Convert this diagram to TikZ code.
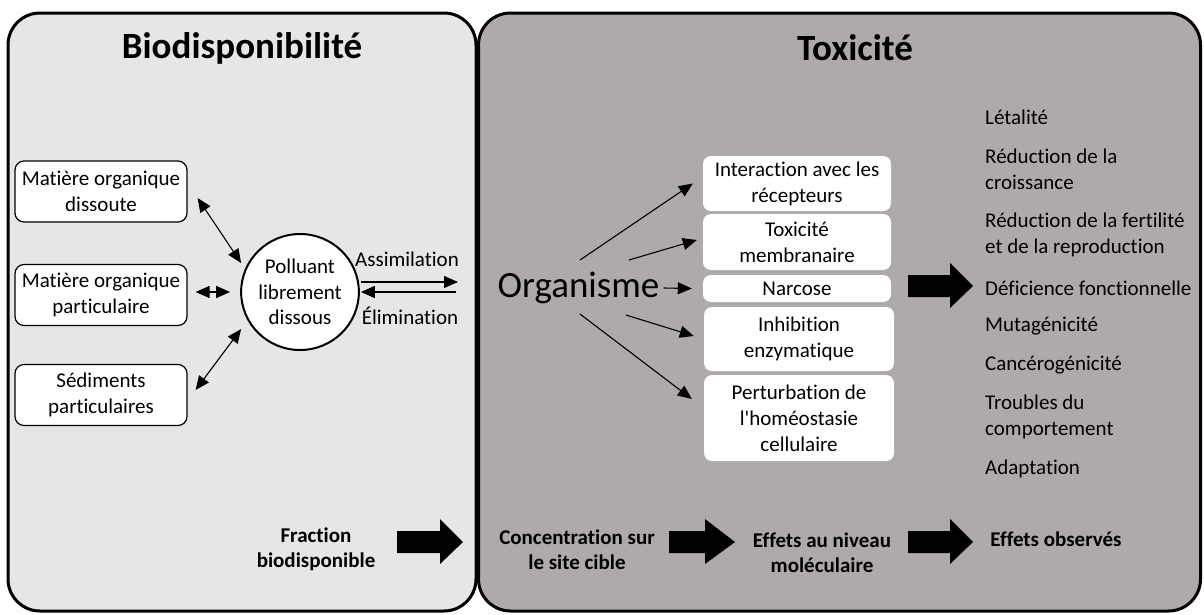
\documentclass[tikz,border=0pt]{standalone}
\usepackage{fontspec}
\setmainfont[Ligatures=NoCommon]{Carlito}
\usetikzlibrary{arrows.meta,shapes.geometric}
\definecolor{leftgray}{HTML}{E7E6E6}
\definecolor{rightgray}{HTML}{AEAAA9}
\begin{document}
\begin{tikzpicture}[x=1pt,y=-1pt,
  panel/.style={line width=3pt, rounded corners=32pt},
  txt/.style={font=\fontsize{21}{26}\selectfont, align=center, inner sep=0pt},
  btxt/.style={font=\fontsize{21}{25}\selectfont\bfseries, align=center, inner sep=0pt},
  ttl/.style={font=\fontsize{37}{40}\selectfont\bfseries, inner sep=0pt},
  lbox/.style={txt, draw, line width=1.2pt, fill=white, rounded corners=9pt, minimum width=172pt, minimum height=61pt},
  wbox/.style={txt, fill=white, rounded corners=8pt},
  lst/.style={txt, anchor=west, align=left},
  arr/.style={line width=1.1pt, -{Triangle[length=14pt,width=12pt]}},
  darr/.style={line width=1.1pt, {Triangle[length=14pt,width=12pt]}-{Triangle[length=14pt,width=12pt]}},
  block/.style={fill=black}
]
\useasboundingbox (0,0) rectangle (1204,614);
% panels
\draw[panel, fill=leftgray] (8,13) rectangle (476,611);
\draw[panel, fill=rightgray] (478.5,13) rectangle (1200.5,611);
\node[ttl] (t1) at (242,48) {Biodisponibilité};
\node[ttl] (t2) at (855,48) {Toxicité};

% left part
\node[lbox] (b1) at (101,191.5) {Matière organique\\dissoute};
\node[lbox] (b2) at (101,295) {Matière organique\\particulaire};
\node[lbox] (b3) at (101,395) {Sédiments\\particulaires};
\node[txt, ellipse, draw, line width=2pt, fill=white, minimum width=106pt, minimum height=116pt, font=\fontsize{21}{25.5}\selectfont] (p) at (300,292) {Polluant\\librement\\dissous};

\draw[darr] ([shift={(10,6.5)}]b1.east) -- ([shift={(1,-29)}]p.west);
\draw[darr] ([shift={(8,-3)}]b2.east) -- ([shift={(-10,0)}]p.west);
\draw[darr] ([shift={(8,-5)}]b3.east) -- ([shift={(1,37)}]p.west);

\coordinate (ae) at (458,282);
\coordinate (es) at (456,292);
\draw[arr] ([shift={(1,-10)}]p.east) -- (ae);
\draw[arr] (es) -- ([shift={(1,0)}]p.east);
\node[txt] (assim) at (407,259) {Assimilation};
\node[txt] (elim) at (410,316) {Élimination};

\node[btxt] (frac) at (316,549) {Fraction\\biodisponible};
\fill[block] (397,531) -- (440,531) -- (440,519) -- (463,542) -- (440,564) -- (440,553) -- (397,553) -- cycle;

% right part
\node[txt, font=\fontsize{37}{40}\selectfont] (org) at (578.5,288) {Organisme};
\node[wbox, minimum width=188pt, minimum height=55pt] (int) at (797,183.5) {Interaction avec les\\récepteurs};
\node[wbox, minimum width=188pt, minimum height=56pt] (tox) at (797,242) {Toxicité\\membranaire};
\node[wbox, minimum width=188pt, minimum height=27pt] (nar) at (797,288.5) {Narcose};
\node[wbox, minimum width=190pt, minimum height=64pt] (inh) at (799,339) {Inhibition\\enzymatique};
\node[wbox, minimum width=190pt, minimum height=86pt] (per) at (799,418) {Perturbation de\\l\textquotesingle homéostasie\\cellulaire};

\draw[arr] ([shift={(1.5,-28)}]org.center) -- ([shift={(-10,0)}]int.west);
\draw[arr] ([shift={(50.5,-28)}]org.center) -- ([shift={(-6,-2)}]tox.west);
\draw[arr] ([shift={(4,0)}]org.east) -- ([shift={(-11,0)}]nar.west);
\draw[arr] ([shift={(47.5,27)}]org.center) -- ([shift={(-10,-3)}]inh.west);
\draw[arr] ([shift={(1.5,26)}]org.center) -- ([shift={(-12,-19)}]per.west);

\fill[block] (908,275) -- (950,275) -- (950,263) -- (973,286) -- (950,308) -- (950,297) -- (908,297) -- cycle;

\node[lst] (l1) at (985,117) {Létalité};
\node[lst] (l2) at (985,169.5) {Réduction de la\\croissance};
\node[lst] (l3) at (985,234.5) {Réduction de la fertilité\\et de la reproduction};
\node[lst] (l4) at (985,288) {Déficience fonctionnelle};
\node[lst] (l5) at (985,326) {Mutagénicité};
\node[lst] (l6) at (985,365) {Cancérogénicité};
\node[lst] (l7) at (985,417) {Troubles du\\comportement};
\node[lst] (l8) at (985,469) {Adaptation};

\node[btxt] (conc) at (577,550) {Concentration sur\\le site cible};
\fill[block] (669,531) -- (705,531) -- (705,519) -- (735,542) -- (705,564) -- (705,553) -- (669,553) -- cycle;
\node[btxt] (eff) at (822,553) {Effets au niveau\\moléculaire};
\fill[block] (908,531) -- (950,531) -- (950,519) -- (973,542) -- (950,564) -- (950,553) -- (908,553) -- cycle;
\node[btxt] (obs) at (1056,539) {Effets observés};
\end{tikzpicture}
\end{document}
